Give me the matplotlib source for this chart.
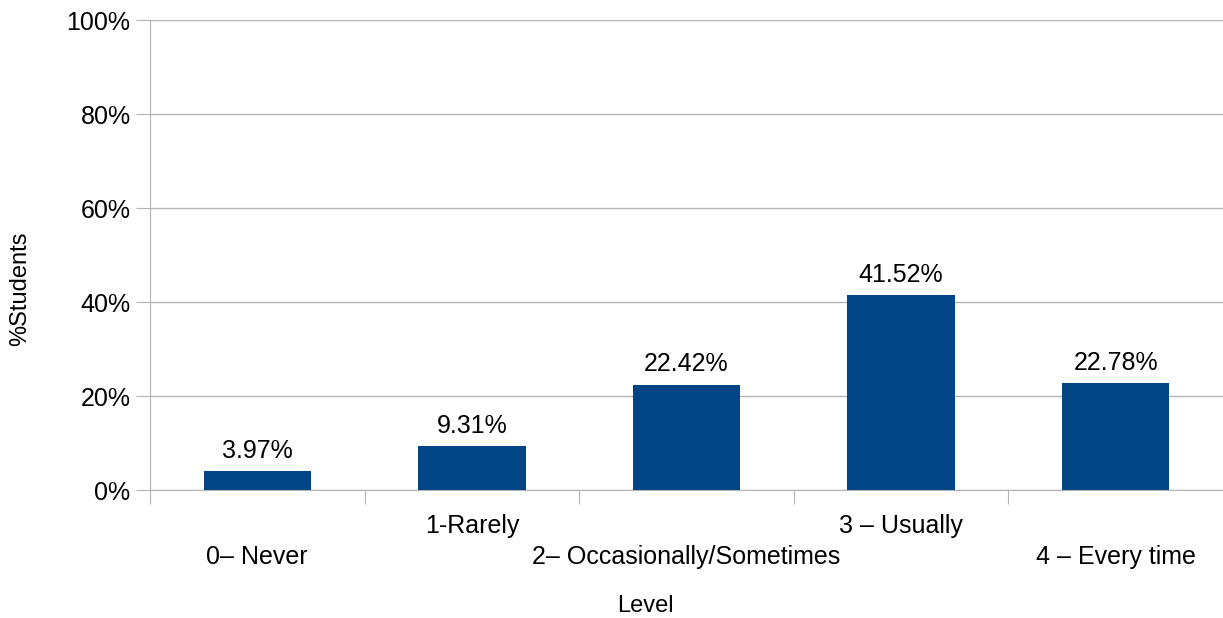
import matplotlib.pyplot as plt
import numpy as np

plt.rcParams['font.family'] = ['Liberation Sans', 'DejaVu Sans']

# data
levels = ['0\u2013 Never', '1-Rarely', '2\u2013 Occasionally/Sometimes', '3 \u2013 Usually', '4 \u2013 Every time']
pct = [3.97, 9.31, 22.42, 41.52, 22.78]

fig = plt.figure(figsize=(12.23, 6.18), dpi=100)
ax = fig.add_axes([150/1223, 128/618, 1 - 150/1223, 470/618])

x = np.arange(len(levels))
ax.bar(x, pct, width=0.5, color='#004586', zorder=3)
for xi, v in zip(x, pct):
    ax.annotate(f'{v:.2f}%', (xi, v), xytext=(0, 6), textcoords='offset points',
                ha='center', va='bottom', fontsize=18)

ax.set_xlim(-0.5, len(levels) - 0.5)
ax.set_ylim(0, 100)
ax.set_yticks(range(0, 101, 20))
ax.set_yticklabels([f'{t}%' for t in range(0, 101, 20)], fontsize=18)
ax.yaxis.grid(True, color='#b3b3b3', linewidth=1, zorder=0)
ax.tick_params(axis='y', length=10, color='#b3b3b3', pad=4)

# category boundary ticks, labels staggered on two rows
ax.set_xticks(np.arange(len(levels)) - 0.5)
ax.set_xticklabels([])
ax.tick_params(axis='x', which='major', length=10, color='#b3b3b3')
ax.set_xticks(x, minor=True)
ax.set_xticklabels(levels, minor=True, fontsize=18)
ax.tick_params(axis='x', which='minor', length=0)
for i, lab in enumerate(ax.get_xticklabels(minor=True)):
    lab.set_y(-0.04 if i % 2 == 1 else -0.108)

for s in ['top', 'right']:
    ax.spines[s].set_visible(False)
ax.spines['left'].set_color('#b3b3b3')
ax.spines['bottom'].set_color('#b3b3b3')

fig.text(645/1223, 1 - 606/618, 'Level', ha='center', va='center', fontsize=17)
fig.text(20/1223, 1 - 289/618, '%Students', ha='center', va='center', rotation=90, fontsize=17)

fig.savefig('out.png', dpi=100)
